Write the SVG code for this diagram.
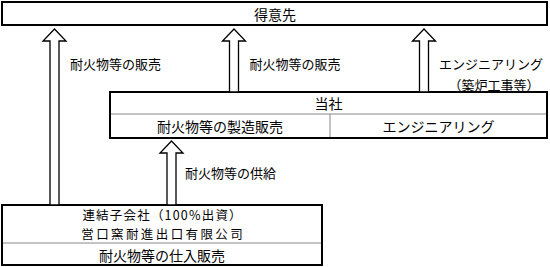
<svg xmlns="http://www.w3.org/2000/svg" width="550" height="267" viewBox="0 0 550 267">
<style>
text{font-family:"Noto Sans CJK JP","Noto Sans",sans-serif;fill:#000;}
.bt{font-size:14px;text-anchor:middle;dominant-baseline:central;}
.sm{font-size:12.5px;text-anchor:middle;dominant-baseline:central;}
.lb{font-size:13px;dominant-baseline:central;}
.box{fill:#fff;stroke:#000;stroke-width:2;}
.div{stroke:#888;stroke-width:1;fill:none;}
.arr{fill:#fff;stroke:#000;stroke-width:1.3;stroke-linejoin:miter;}
</style>
<rect width="550" height="267" fill="#fff"/>
<g id="customer">
<rect class="box" x="2" y="2" width="545" height="23"/>
<text class="bt" x="275" y="14">得意先</text>
</g>
<g id="company">
<rect class="box" x="110" y="92" width="437" height="46"/>
<line class="div" x1="111" y1="114" x2="546" y2="114"/>
<line class="div" x1="330" y1="114" x2="330" y2="137"/>
<text class="bt" x="328.5" y="103">当社</text>
<text class="bt" x="220" y="126">耐火物等の製造販売</text>
<text class="bt" x="438.5" y="126">エンジニアリング</text>
</g>
<g id="subsidiary">
<rect class="box" x="2" y="205" width="320" height="60"/>
<line class="div" x1="3" y1="243" x2="321" y2="243"/>
<text class="sm" x="162.6" y="214.5" style="letter-spacing:1.2px">連結子会社（100%出資）</text>
<text class="sm" x="163.2" y="233" style="letter-spacing:2.4px">営口窯耐進出口有限公司</text>
<text class="bt" x="162" y="254.5">耐火物等の仕入販売</text>
</g>
<g id="connectors">
<polygon class="arr" points="54.5,29 66,41 59,41 59,205 50,205 50,41 43,41"/>
<polygon class="arr" points="234,29 245.5,41 238.5,41 238.5,92 229.5,92 229.5,41 222.5,41"/>
<polygon class="arr" points="424,29 435.5,41 428.5,41 428.5,92 419.5,92 419.5,41 412.5,41"/>
<polygon class="arr" points="171.5,141 183,153 176,153 176,205 167,205 167,153 160,153"/>
<text class="lb" x="70" y="63">耐火物等の販売</text>
<text class="lb" x="249.5" y="63">耐火物等の販売</text>
<text class="lb" x="439" y="63">エンジニアリング</text>
<text class="lb" x="494" y="84" text-anchor="middle">（築炉工事等）</text>
<text class="lb" x="185" y="172">耐火物等の供給</text>
</g>
</svg>
